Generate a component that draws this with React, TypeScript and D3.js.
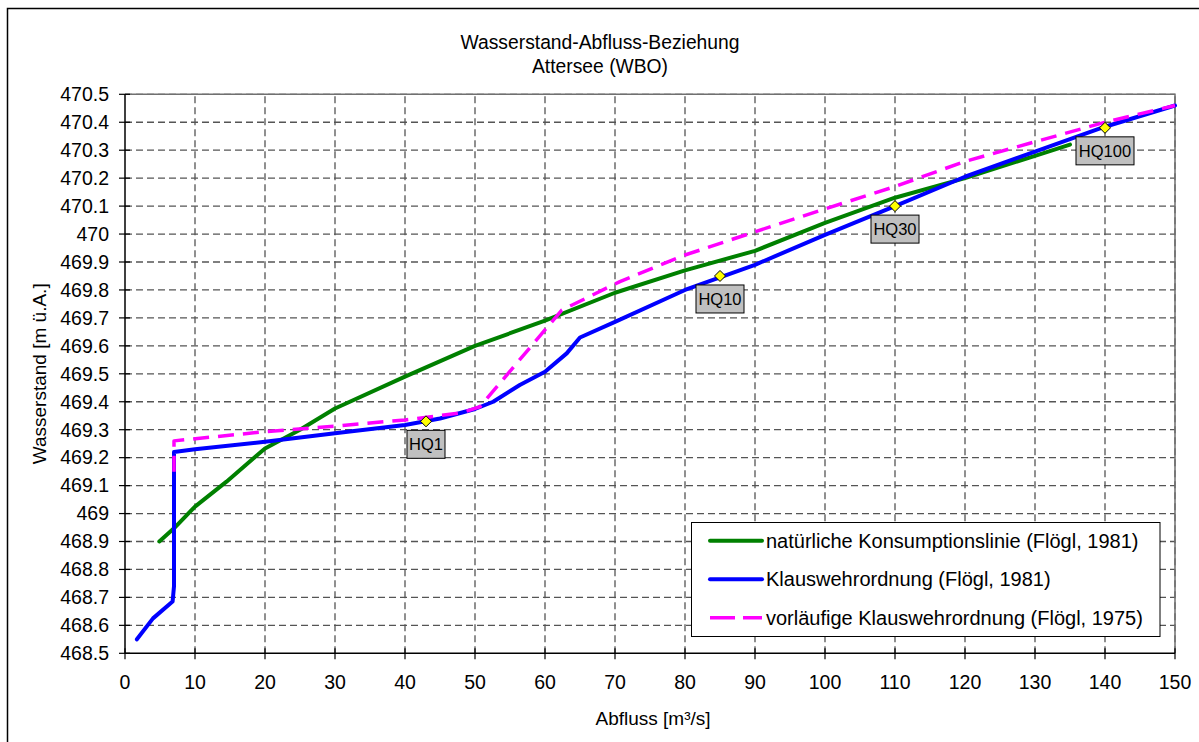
import React from "react";
import * as d3 from "d3";

const naturalQ = [4.9, 7, 10, 14.5, 20, 25, 30, 40, 50, 60, 70, 80, 90, 100, 110, 120, 130, 135];
const naturalH = [468.9, 468.947, 469.025, 469.114, 469.233, 469.3, 469.376, 469.49, 469.6, 469.69, 469.79, 469.87, 469.94, 470.04, 470.13, 470.2, 470.28, 470.32];

const klausQ = [1.7, 4, 6.8, 7, 7, 10, 20, 30, 40, 45, 50, 52.6, 56.4, 60, 63.1, 65, 70, 80, 90, 100, 110, 120, 130, 140, 150];
const klausH = [468.55, 468.625, 468.685, 468.74, 469.22, 469.23, 469.257, 469.287, 469.317, 469.34, 469.374, 469.4, 469.46, 469.507, 469.573, 469.63, 469.686, 469.8, 469.89, 469.997, 470.1, 470.205, 470.295, 470.384, 470.46];

const vorlQ = [7, 7, 20, 30, 40, 48, 50.7, 62.4, 70.7, 80, 90, 100, 110, 120, 130, 140, 150];
const vorlH = [469.15, 469.26, 469.293, 469.313, 469.335, 469.36, 469.382, 469.728, 469.83, 469.925, 470.008, 470.09, 470.17, 470.26, 470.33, 470.4, 470.46];

const hqLabels = ["HQ1", "HQ10", "HQ30", "HQ100"];
const hqQ = [43, 85, 110, 140];
const hqH = [469.33, 469.85, 470.1, 470.38];

const xTicks = [0, 10, 20, 30, 40, 50, 60, 70, 80, 90, 100, 110, 120, 130, 140, 150];
const yTicks = [468.5, 468.6, 468.7, 468.8, 468.9, 469, 469.1, 469.2, 469.3, 469.4, 469.5, 469.6, 469.7, 469.8, 469.9, 470, 470.1, 470.2, 470.3, 470.4, 470.5];

const legendNames = [
  "natürliche Konsumptionslinie (Flögl, 1981)",
  "Klauswehrordnung (Flögl, 1981)",
  "vorläufige Klauswehrordnung (Flögl, 1975)",
];
const seriesColors = ["#008000", "#0000ff", "#ff00ff"];

const FONT = "'Liberation Sans', Arial, sans-serif";

export default function App() {
  const x = d3.scaleLinear().domain([0, 150]).range([125, 1175]);
  const y = d3.scaleLinear().domain([468.5, 470.5]).range([653.3, 94.3]);

  const mk = (qs: number[], hs: number[]) =>
    d3.line<number>().x((_, i) => x(qs[i])).y((_, i) => y(hs[i]))(qs.map((_, i) => i)) || "";

  const paths = [mk(naturalQ, naturalH), mk(klausQ, klausH), mk(vorlQ, vorlH)];

  const fmt = (v: number) => String(Math.round(v * 10) / 10);

  return (
    <svg
      width={1199}
      height={742}
      style={{ position: "absolute", left: 0, top: 0, background: "#fff" }}
    >
      <rect x={0} y={0} width={1199} height={742} fill="#fff" />
      {/* chart frame */}
      <path d="M7.5,742 L7.5,8.5 L1199,8.5" fill="none" stroke="#000" strokeWidth={1.5} />

      {/* title */}
      <text x={600} y={49} textAnchor="middle" fontFamily={FONT} fontSize={19.3} fill="#000">
        Wasserstand-Abfluss-Beziehung
      </text>
      <text x={600} y={73} textAnchor="middle" fontFamily={FONT} fontSize={19.3} fill="#000">
        Attersee (WBO)
      </text>

      {/* gridlines */}
      {yTicks.slice(1).map((t) => (
        <line key={"gy" + t} x1={x(0)} x2={x(150)} y1={y(t)} y2={y(t)} stroke="#555" strokeWidth={1.3} strokeDasharray="7 4" />
      ))}
      {xTicks.slice(1).map((t) => (
        <line key={"gx" + t} x1={x(t)} x2={x(t)} y1={y(468.5)} y2={y(470.5)} stroke="#555" strokeWidth={1.3} strokeDasharray="7 4" />
      ))}
      {/* plot border top/right */}
      <path d={`M${x(0)},${y(470.5)} L${x(150)},${y(470.5)} L${x(150)},${y(468.5)}`} fill="none" stroke="#707070" strokeWidth={1.5} />

      {/* axes */}
      <line x1={x(0)} x2={x(0)} y1={y(468.5)} y2={y(470.5)} stroke="#000" strokeWidth={1.5} />
      <line x1={x(0)} x2={x(150)} y1={y(468.5)} y2={y(468.5)} stroke="#000" strokeWidth={1.5} />
      {yTicks.map((t) => (
        <g key={"ty" + t}>
          <line x1={x(0) - 6} x2={x(0) + 5} y1={y(t)} y2={y(t)} stroke="#000" strokeWidth={1.2} />
          <text x={109} y={y(t)} dy="0.35em" textAnchor="end" fontFamily={FONT} fontSize={19.5} fill="#000">
            {fmt(t)}
          </text>
        </g>
      ))}
      {xTicks.map((t) => (
        <g key={"tx" + t}>
          <line x1={x(t)} x2={x(t)} y1={y(468.5) - 5} y2={y(468.5) + 6} stroke="#000" strokeWidth={1.2} />
          <text x={x(t)} y={682} dy="0.35em" textAnchor="middle" fontFamily={FONT} fontSize={19.5} fill="#000">
            {t}
          </text>
        </g>
      ))}

      {/* axis titles */}
      <text x={653} y={725} textAnchor="middle" fontFamily={FONT} fontSize={19} fill="#000">
        Abfluss [m³/s]
      </text>
      <text
        transform={`translate(46,${(y(468.5) + y(470.5)) / 2}) rotate(-90)`}
        textAnchor="middle"
        fontFamily={FONT}
        fontSize={19}
        fill="#000"
      >
        Wasserstand [m ü.A.]
      </text>

      {/* series */}
      <path d={paths[0]} fill="none" stroke={seriesColors[0]} strokeWidth={4} strokeLinejoin="round" strokeLinecap="round" />
      <path d={paths[1]} fill="none" stroke={seriesColors[1]} strokeWidth={4} strokeLinejoin="round" strokeLinecap="round" />
      <path d={paths[2]} fill="none" stroke={seriesColors[2]} strokeWidth={3.5} strokeDasharray="16 9" strokeLinejoin="round" />

      {/* HQ markers and labels */}
      {hqLabels.map((lab, i) => {
        const cx = x(hqQ[i]);
        const cy = y(hqH[i]);
        const w = lab.length * 10 + 8;
        return (
          <g key={lab}>
            <path d={`M${cx},${cy - 5.5} L${cx + 5.5},${cy} L${cx},${cy + 5.5} L${cx - 5.5},${cy} Z`} fill="#ffff00" stroke="#000" strokeWidth={1} />
            <rect x={cx - w / 2} y={cy + 9} width={w} height={28} fill="#c0c0c0" stroke="#000" strokeWidth={1} />
            <text x={cx} y={cy + 23} dy="0.35em" textAnchor="middle" fontFamily={FONT} fontSize={16.5} fill="#000">
              {lab}
            </text>
          </g>
        );
      })}

      {/* legend */}
      <rect x={691.5} y={522.5} width={468.5} height={114} fill="#fff" stroke="#000" strokeWidth={1} />
      {legendNames.map((name, i) => {
        const ly = 540.7 + i * 38.5;
        return (
          <g key={name}>
            <line
              x1={710}
              x2={762}
              y1={ly}
              y2={ly}
              stroke={seriesColors[i]}
              strokeWidth={i === 2 ? 3.5 : 4}
              strokeLinecap={i === 2 ? "butt" : "round"}
              strokeDasharray={i === 2 ? "25 8" : undefined}
            />
            <text x={766} y={ly} dy="0.35em" fontFamily={FONT} fontSize={20} fill="#000">
              {name}
            </text>
          </g>
        );
      })}
    </svg>
  );
}
